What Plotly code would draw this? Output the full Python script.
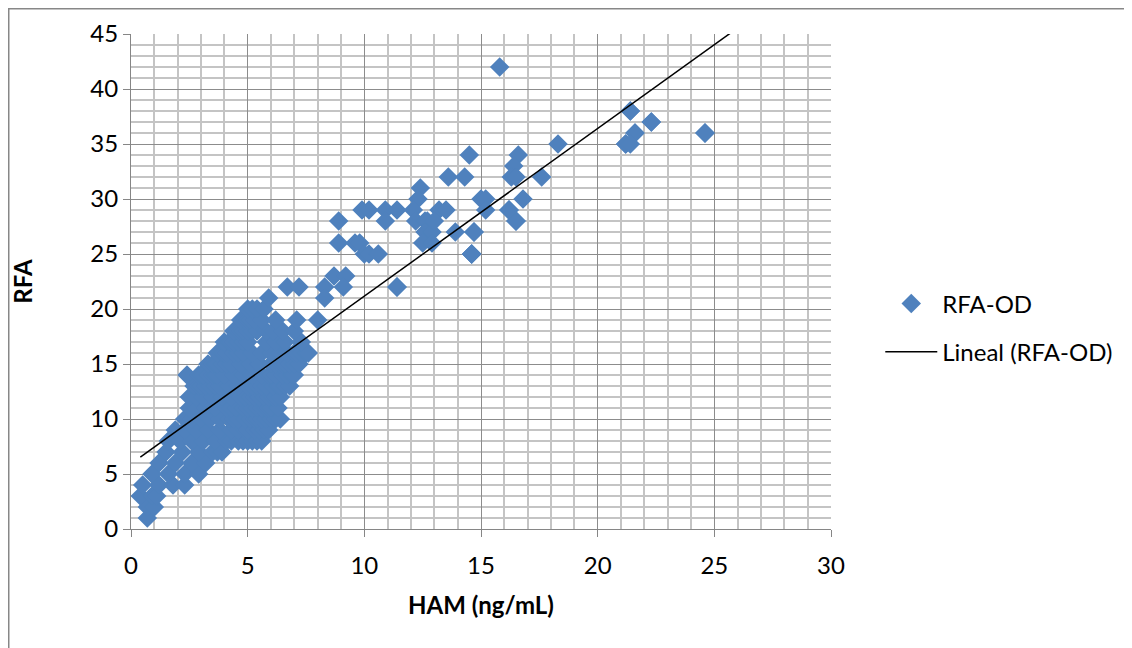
import plotly.graph_objects as go
import numpy as np

# HAM (ng/mL) values (x) and RFA values (y) of the scattered upper points
# (several points overlap exactly where diamonds are stacked in the reference)
ham_outer = [15.8, 18.3, 14.5, 16.6, 16.4, 16.3, 16.5, 17.6, 13.6, 14.3, 12.4, 12.3, 15.0, 15.2,
             16.8, 15.2, 16.2, 16.5, 9.9, 10.2, 10.9, 11.4, 10.9, 8.9, 12.1, 12.2, 12.6, 12.7,
             12.6, 12.9, 13.2, 13.5, 13.0, 12.5, 12.9, 13.9, 14.7, 14.6, 8.9, 9.6, 9.8, 10.0,
             10.2, 10.6, 11.4, 8.7, 9.2, 9.1, 8.3, 8.3, 21.4, 22.3, 21.6, 21.2, 24.6, 6.7,
             7.2, 5.9, 8.0, 7.1,
             21.4, 22.3, 21.6, 21.2, 21.4, 24.6, 24.6,
             14.6, 16.5, 11.4, 16.2, 14.7, 14.6, 16.5, 11.4, 16.2, 14.7]
rfa_outer = [42, 35, 34, 34, 33, 32, 32, 32, 32, 32, 31, 30, 30, 30,
             30, 29, 29, 28, 29, 29, 29, 29, 28, 28, 29, 28, 28, 28,
             27, 27, 29, 29, 28, 26, 26, 27, 27, 25, 26, 26, 26, 25,
             25, 25, 22, 23, 23, 22, 22, 21, 38, 37, 36, 35, 36, 22,
             22, 21, 19, 19,
             38, 37, 36, 35, 35, 36, 36,
             25, 28, 22, 29, 27, 25, 28, 22, 29, 27]

# dense cluster: HAM values listed for each RFA value
cluster_rows = {
    1: [0.7],
    2: [0.7, 1.0],
    3: [0.4, 0.9, 1.1],
    4: [0.5, 1.2, 1.8, 2.3],
    5: [0.9, 1.6, 2.3, 2.9],
    6: [1.2, 1.9, 2.6, 3.2],
    7: [1.5, 2.2, 2.9, 3.5, 3.7, 3.9],
    8: [1.6, 2.1, 2.6, 3.1, 3.6, 4.1, 4.3, 4.6, 4.8, 5.0, 5.2, 5.4, 5.6],
    9: [1.9, 2.3, 2.8, 3.3, 3.8, 4.3, 4.6, 4.9, 5.0, 5.3, 5.5, 5.7, 5.9],
    10: [2.3, 2.6, 3.0, 3.4, 3.8, 4.2, 4.4, 4.6, 4.9, 5.1, 5.3, 5.4, 5.6, 5.8, 6.0, 6.2, 6.4],
    11: [2.5, 2.8, 3.2, 3.6, 4.1, 4.3, 4.5, 4.8, 5.0, 5.2, 5.4, 5.6, 5.8, 5.9, 6.0, 6.3],
    12: [2.5, 2.8, 3.1, 3.5, 3.9, 4.3, 4.7, 4.9, 5.1, 5.3, 5.5, 5.7, 5.9, 6.1, 6.2, 6.4],
    13: [2.7, 2.9, 3.0, 3.2, 3.4, 3.6, 3.8, 4.2, 4.6, 5.0, 5.2, 5.4, 5.6, 5.8, 6.1, 6.3, 6.4,
         6.6, 6.8],
    14: [2.4, 2.9, 3.0, 3.1, 3.3, 3.5, 3.6, 3.7, 4.0, 4.4, 4.8, 5.2, 5.6, 5.9, 6.0, 6.2, 6.5,
         6.7, 6.9, 7.0],
    15: [3.3, 3.5, 3.6, 3.7, 3.9, 4.1, 4.3, 4.7, 5.1, 5.5, 6.0, 6.2, 6.4, 6.5, 6.6, 6.8, 7.0, 7.2],
    16: [3.7, 3.9, 4.0, 4.1, 4.4, 4.6, 4.8, 5.2, 5.6, 6.0, 6.4, 6.7, 7.0, 7.1, 7.3, 7.5, 7.6],
    17: [4.0, 4.2, 4.3, 4.4, 4.6, 4.8, 5.0, 5.8, 6.2, 6.6, 7.3],
    18: [4.4, 4.6, 4.7, 4.8, 5.0, 5.2, 5.4, 5.8, 6.1, 6.5, 7.0],
    19: [4.7, 4.9, 5.0, 5.1, 5.3, 5.6, 6.2],
    20: [5.0, 5.2, 5.4, 5.7],
}
ham_cluster = [x for r, xs in cluster_rows.items() for x in xs]
rfa_cluster = [r for r, xs in cluster_rows.items() for x in xs]

ham = ham_cluster + ham_outer
rfa = rfa_cluster + rfa_outer

# linear trendline (least squares), drawn from the smallest HAM value to the axis end
slope, intercept = np.polyfit(ham, rfa, 1)
x_fit = np.array([min(ham), 30.0])
y_fit = intercept + slope * x_fit

FONT = "Lato, 'Open Sans', sans-serif"
BLUE = "#4F81BD"
FS = 24

fig = go.Figure()
fig.add_trace(go.Scatter(
    x=ham, y=rfa, mode="markers", name="RFA-OD",
    marker=dict(symbol="diamond", size=15, color=BLUE, line=dict(width=0)),
    legendgroup="a",
))
fig.add_trace(go.Scatter(
    x=x_fit, y=y_fit, mode="lines", name="Lineal (RFA-OD)",
    line=dict(color="black", width=1.5),
    legendgroup="b",
))

axis_common = dict(
    showgrid=True, gridcolor="#8C8C8C", gridwidth=1,
    showline=True, linecolor="#868686", linewidth=1,
    ticks="outside", ticklen=7, tickcolor="#868686",
    zeroline=False, tickfont=dict(family=FONT, size=FS, color="black"),
    minor=dict(dtick=1, showgrid=True, gridcolor="#C4C4C4", gridwidth=1.5),
    fixedrange=True, automargin=False,
)

# the page adds an 8px body margin, so the figure margins are offset by 8px
fig.update_layout(
    width=1132, height=648,
    margin=dict(l=123, r=309, t=26, b=127),
    paper_bgcolor="white", plot_bgcolor="white",
    font=dict(family=FONT, size=FS, color="black"),
    xaxis=dict(range=[0, 30], tick0=0, dtick=5, ticklabelstandoff=8,
               title=dict(text="<b>HAM (ng/mL)</b>", font=dict(family=FONT, size=FS), standoff=19),
               **axis_common),
    yaxis=dict(range=[0, 45], tick0=0, dtick=5,
               title=dict(text="<b>RFA</b>", font=dict(family=FONT, size=FS), standoff=64),
               **axis_common),
    showlegend=True,
    legend=dict(x=1.0704, y=0.50, xanchor="left", yanchor="top",
                font=dict(family=FONT, size=FS, color="black"),
                bgcolor="rgba(0,0,0,0)", traceorder="grouped", tracegroupgap=14,
                itemwidth=52),
    shapes=[dict(type="rect", xref="paper", yref="paper",
                 x0=(0.75 - 123) / 700, x1=(1160 - 123) / 700,
                 y0=-1.0, y1=1 + (26 - 0.75) / 495,
                 line=dict(color="#878787", width=1.5), fillcolor="rgba(0,0,0,0)", layer="below")],
)

fig.write_html("out.html")
